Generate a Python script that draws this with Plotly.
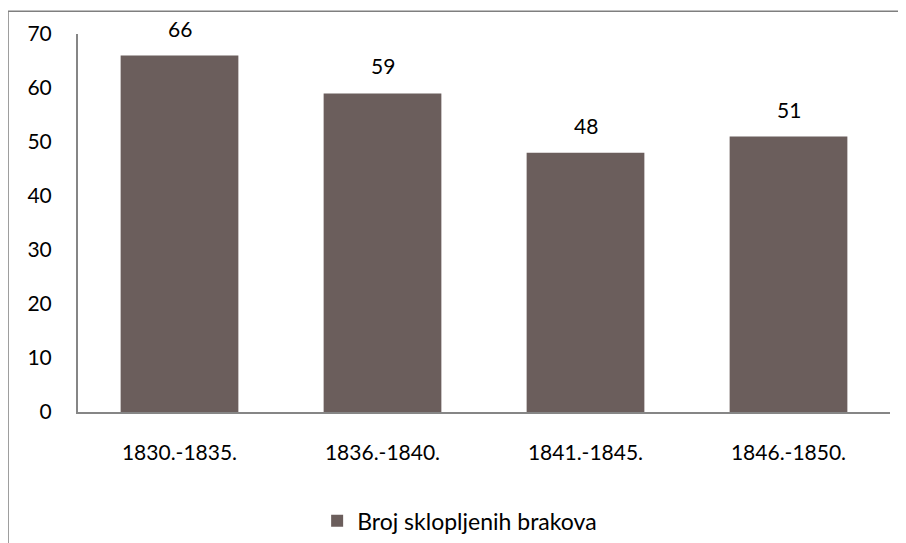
import plotly.graph_objects as go

categories = ["1830.-1835.", "1836.-1840.", "1841.-1845.", "1846.-1850."]
values = [66, 59, 48, 51]
series_name = "Broj sklopljenih brakova"
y_ticks = [0, 10, 20, 30, 40, 50, 60, 70]

bar_color = "#6B5E5C"
axis_color = "#868686"
font_family = "Lato, 'Open Sans', sans-serif"

fig = go.Figure()
fig.add_trace(go.Bar(
    x=categories, y=values, name=series_name,
    marker=dict(color=bar_color, line=dict(width=0)),
))

for c, v in zip(categories, values):
    fig.add_annotation(x=c, y=v, text=str(v), showarrow=False,
                       yanchor="bottom", yshift=13,
                       font=dict(family=font_family, size=21, color="#000000"))

# chart frame (left and top edges visible)
fig.add_shape(type="path", xref="paper", yref="paper",
              path="M -0.0862 -0.6 L -0.0862 1.06 L 1.1 1.06",
              line=dict(color="#7F7F7F", width=1.5), layer="below")

fig.update_layout(
    width=898, height=535,
    margin=dict(l=70, r=16, t=26, b=131, autoexpand=False),
    paper_bgcolor="white", plot_bgcolor="white",
    bargap=0.42,
    font=dict(family=font_family, size=21, color="#000000"),
    showlegend=True,
    legend=dict(orientation="h", x=0.47, xanchor="center", y=-0.288, yanchor="middle",
                font=dict(size=23), itemwidth=30, bgcolor="rgba(0,0,0,0)"),
    xaxis=dict(showline=True, linecolor=axis_color, linewidth=2, showgrid=False,
               ticks="outside", ticklen=0, tickcolor="white", ticklabelstandoff=21,
               tickfont=dict(size=21), automargin=False),
    yaxis=dict(range=[0, 70], tickvals=y_ticks, showline=True, linecolor=axis_color,
               linewidth=2, showgrid=False, zeroline=False, ticks="outside",
               ticklen=0, ticklabelstandoff=20, tickfont=dict(size=21), automargin=False),
)

fig.write_html("out.html")
